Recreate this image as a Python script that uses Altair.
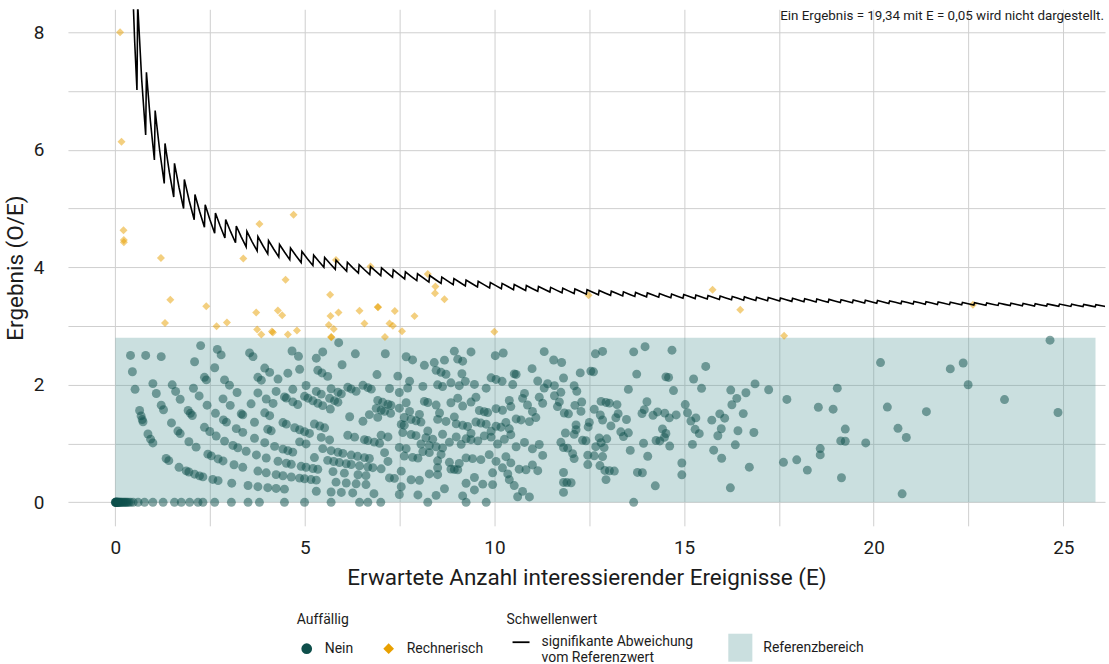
import altair as alt
import pandas as pd

# Observed events (O) per unit, keyed by O, listing the expected events (E) of each unit.
nein = {
    0: [0.0, 0.005, 0.01, 0.015, 0.02, 0.03, 0.04, 0.05, 0.06, 0.07, 0.08, 0.1, 0.12, 0.14, 0.16,
        0.19, 0.22, 0.25, 0.28, 0.31, 0.35, 0.4, 0.47, 0.6, 0.77, 0.99, 1.26, 1.56, 1.74, 1.96,
        2.18, 2.31, 2.62, 3.06, 3.5, 3.8, 4.46, 4.99, 5.69, 6.44, 6.66, 7.0, 8.24, 9.25, 9.78, 13.67],
    1: [0.40, 0.45, 0.52, 0.64, 0.68, 0.71, 0.73, 0.86, 0.93, 0.99, 1.34, 1.41, 1.68, 1.87, 1.94,
        2.09, 2.22, 2.31, 2.57, 2.71, 3.07, 3.50, 3.76, 4.02, 4.24, 4.46, 5.30, 5.69, 5.96, 6.26,
        6.82, 7.49, 7.98, 8.46, 9.16, 10.61, 10.92],
    2: [0.80, 0.99, 1.08, 1.21, 1.27, 1.48, 1.65, 1.71, 1.94, 2.13, 2.44, 2.53, 2.71, 2.84, 3.13,
        3.36, 3.76, 3.98, 4.24, 4.42, 4.64, 4.86, 4.99, 5.16, 5.30, 5.82, 6.09, 6.35, 6.61, 7.54,
        8.68, 9.47, 10.74, 11.82],
    3: [1.21, 1.50, 1.59, 1.71, 1.92, 1.98, 2.03, 2.35, 2.49, 2.66, 2.88, 3.10, 3.23, 3.45, 3.72,
        3.98, 4.29, 4.51, 4.64, 4.90, 5.03, 5.21, 5.34, 5.74, 6.04, 6.40, 6.61, 7.23, 7.36, 7.80,
        8.02, 9.25, 9.69, 9.95, 10.52, 20.75],
    4: [2.06, 2.21, 2.42, 2.64, 2.85, 2.93, 3.19, 3.36, 3.67, 3.94, 4.20, 4.42, 4.55, 4.68, 5.25,
        5.60, 5.76, 5.91, 6.09, 6.22, 6.44, 6.66, 6.79, 7.01, 7.54, 8.28, 8.50, 9.47, 10.39, 11.82,
        11.91, 12.02, 14.24, 16.22],
    5: [2.09, 2.35, 2.40, 2.84, 3.03, 3.32, 3.36, 3.67, 4.02, 4.11, 4.86, 5.03, 5.47, 5.69, 5.87,
        6.00, 6.22, 6.39, 6.57, 6.70, 7.19, 8.50, 8.85, 8.94, 9.03, 9.95, 10.35, 12.94],
    6: [2.25, 2.62, 2.88, 3.01, 3.21, 3.58, 3.94, 4.07, 4.42, 4.51, 4.73, 4.86, 4.99, 5.12, 5.43,
        5.65, 7.10, 7.62, 7.84, 7.98, 8.50, 8.81, 9.07, 10.21, 10.65, 10.83, 11.14, 11.82],
    7: [2.69, 2.79, 3.76, 3.98, 4.16, 5.25, 5.39, 5.52, 6.13, 6.31, 6.57, 6.66, 6.83, 6.97, 7.49,
        7.67, 8.11, 8.28, 8.59, 9.25, 9.42, 9.64, 10.04, 10.43, 11.00, 12.91, 13.03, 13.16, 13.77,
        13.90, 14.94],
    8: [3.76, 3.85, 4.24, 4.46, 4.51, 4.68, 4.81, 7.01, 7.19, 8.06, 8.28, 8.46, 8.63, 9.86, 10.30,
        12.46, 12.78, 19.15],
    9: [3.54, 3.63, 3.94, 4.07, 4.29, 4.68, 4.99, 5.08, 5.21, 5.34, 5.47, 5.67, 6.18, 6.53, 7.58,
        7.80, 7.93, 8.19, 8.37, 8.81, 9.12, 11.27, 12.10],
    10: [4.55, 5.03, 5.30, 5.43, 5.65, 5.78, 5.87, 6.70, 6.92, 7.54, 7.62, 8.24, 8.63, 8.99, 9.25,
         9.38, 9.56, 10.08, 10.57, 11.00, 12.06, 12.46, 12.63, 12.85, 14.94, 16.72, 18.25],
    11: [4.86, 5.69, 5.87, 5.96, 6.88, 7.01, 7.10, 7.26, 7.62, 7.80, 7.93, 8.06, 9.38, 9.73, 9.91,
         10.26, 10.79, 11.18, 11.82, 11.93, 14.04],
    12: [4.66, 4.83, 5.34, 5.45, 5.60, 6.13, 6.22, 6.35, 6.92, 7.05, 7.19, 7.27, 7.49, 7.76, 8.02,
         8.50, 8.72, 8.99, 9.16, 9.29, 9.91, 10.43, 11.75, 12.67, 12.89, 13.58, 15.99, 17.62],
    13: [5.30, 6.53, 6.66, 6.75, 7.67, 8.55, 8.94, 9.51, 9.64, 9.78, 10.04, 10.17, 10.39, 12.32,
         12.41, 12.81, 17.97],
    14: [5.47, 5.98, 7.23, 7.49, 8.15, 8.24, 8.46, 10.30, 11.87, 12.10, 12.76, 12.96, 13.93, 14.62,
         15.78],
    15: [6.90, 7.71, 8.85, 9.16, 9.60, 9.73, 9.82, 10.57, 10.70, 10.92, 12.15, 13.40, 14.26, 14.36,
         15.22, 18.59],
    16: [5.89, 6.33, 7.45, 7.76, 8.11, 9.03, 9.38, 10.04, 10.21, 11.09, 12.15, 12.47, 13.33, 13.53,
         14.48, 16.35],
    17: [8.50, 8.63, 9.51, 10.43, 11.00, 12.50, 13.07, 14.52, 18.59],
    18: [7.12, 8.85, 9.07, 10.39, 10.87, 11.84, 11.95, 12.85, 14.43, 15.40, 15.89],
    19: [7.67, 7.84, 8.15, 8.46, 8.59, 8.72, 9.23, 9.47, 9.78, 10.74, 11.27, 11.66, 12.28, 12.79,
         13.20, 13.48, 15.29],
    20: [8.41, 9.14, 10.79, 11.18, 11.71, 12.12, 12.63, 13.26, 15.98, 16.42, 16.84, 19.13, 19.25,
         19.79],
    21: [8.68, 9.91, 10.04, 10.20, 10.48, 11.58, 12.30, 13.89, 14.18, 14.61, 15.18],
    22: [9.03, 9.16, 11.31, 11.75, 12.81, 12.94, 13.03, 13.23, 13.95, 14.30, 14.49, 14.79, 15.31,
         15.73],
    23: [8.94, 10.52, 10.57, 11.14, 11.40, 11.58, 12.17, 15.09, 16.07, 20.86],
    24: [9.38, 12.10, 14.02, 15.94, 19.25],
    25: [10.02, 10.99, 11.82, 15.03, 16.56],
    26: [10.23, 13.53, 20.64],
    27: [12.26, 16.26],
    28: [11.56, 11.77, 12.54, 12.61, 14.72],
    29: [11.31, 16.39],
    30: [13.75, 15.46, 18.54, 18.93],
    31: [14.52, 14.59, 16.23, 16.63, 17.71],
    32: [12.66, 15.25],
    33: [12.85, 17.23, 20.36, 21.39],
    34: [16.87],
    35: [13.67],
    36: [15.57],
    37: [13.97, 19.04],
    38: [14.68, 24.86],
    41: [23.45],
    45: [22.49],
    48: [20.18],
    50: [22.02],
    53: [22.36],
    68: [24.65],
}

rechnerisch = {
    1: [0.125, 0.163, 0.216, 0.224, 0.226],
    4: [1.31],
    5: [1.202, 1.45],
    8: [2.398, 2.67],
    9: [2.943],
    11: [3.74, 3.85],
    12: [3.715, 4.13, 4.155],
    13: [4.55],
    14: [3.375, 4.287, 4.40, 4.79],
    16: [5.69, 5.70],
    17: [4.49, 5.63, 5.76],
    18: [3.80, 5.675],
    19: [5.885],
    20: [5.665, 6.57, 7.11],
    21: [6.44],
    22: [7.23, 7.32, 7.56],
    23: [4.70, 6.92, 6.93],
    24: [5.82, 7.37],
    25: [7.89],
    27: [6.73],
    29: [9.995],
    30: [8.43, 8.68],
    31: [8.44],
    32: [8.24],
    44: [12.48],
    50: [17.637],
    54: [16.48],
    57: [15.75],
    76: [22.617],
}

# Threshold: critical count starts at 4 and rises by one at each of these E values.
schwelle_start_anzahl = 4
schwelle_sprung_E = [
    0.57, 0.80, 1.03, 1.29, 1.54, 1.80, 2.08, 2.35, 2.62, 2.89, 3.17, 3.45, 3.74, 4.02, 4.31,
    4.60, 4.90, 5.21, 5.50, 5.80, 6.10, 6.41, 6.71, 7.00, 7.31, 7.63, 7.95, 8.27, 8.59, 8.91,
    9.23, 9.55, 9.87, 10.18, 10.50, 10.82, 11.14, 11.46, 11.78, 12.10, 12.42, 12.74, 13.06,
    13.38, 13.70, 14.01, 14.33, 14.65, 14.97, 15.29, 15.61, 15.93, 16.25, 16.57, 16.89, 17.20,
    17.52, 17.84, 18.16, 18.48, 18.80, 19.12, 19.44, 19.76, 20.08, 20.40, 20.72, 21.04, 21.36,
    21.68, 22.00, 22.32, 22.64, 22.96, 23.28, 23.60, 23.92, 24.24, 24.56, 24.88, 25.20, 25.52,
    25.84,
]
schwelle_E_min, schwelle_E_max = 0.45, 26.3

# Reference range
referenz_E = [0.0, 25.85]
referenz_ergebnis = [0.0, 2.8]

hinweis = "Ein Ergebnis = 19,34 mit E = 0,05 wird nicht dargestellt."

FONT = "Roboto"
TEXT = "#1c1c1c"
GRID = "#cfcfcf"
GRUPPEN = ["Nein", "Rechnerisch"]
FARBEN = ["#0e4f4b", "#e8a000"]

# ---- tables -------------------------------------------------------------
def punkte_tabelle(daten, gruppe):
    rows = []
    for o, werte in daten.items():
        for e in werte:
            rows.append({"E": e, "O": o, "Ergebnis": (o / e) if e > 0 else 0.0,
                         "Auffällig": gruppe})
    return pd.DataFrame(rows)


punkte_nein = punkte_tabelle(nein, "Nein")
punkte_rechnerisch = punkte_tabelle(rechnerisch, "Rechnerisch")

linie_rows = []
anfaenge = [schwelle_E_min] + schwelle_sprung_E
enden = schwelle_sprung_E + [schwelle_E_max]
for i, (s, e) in enumerate(zip(anfaenge, enden)):
    k = schwelle_start_anzahl + i
    s0 = s + 0.02 if i > 0 else s
    for x in (s0, (s0 + e) / 2, e):
        linie_rows.append({"E": x, "Schwelle": k / x, "n": len(linie_rows),
                           "Art": "signifikante Abweichung vom Referenzwert"})
linie = pd.DataFrame(linie_rows)

band_df = pd.DataFrame({"x": [referenz_E[0]], "x2": [referenz_E[1]],
                        "y": [referenz_ergebnis[0]], "y2": [referenz_ergebnis[1]],
                        "Bereich": ["Referenzbereich"]})
text_df = pd.DataFrame({"t": [hinweis]})

# ---- scales & axes ------------------------------------------------------
x_scale = alt.Scale(domain=[-1.25, 26.1], nice=False, zero=False)
y_scale = alt.Scale(domain=[-0.4, 8.39], nice=False, zero=False)

x_axis = alt.Axis(
    title="Erwartete Anzahl interessierender Ereignisse (E)",
    values=[0, 2.5, 5, 7.5, 10, 12.5, 15, 17.5, 20, 22.5, 25],
    labelExpr="datum.value % 5 === 0 ? format(datum.value, 'd') : ''",
    grid=True, gridColor=GRID, gridWidth=1, domain=False, ticks=False, tickSize=0,
    labelFont=FONT, labelFontSize=19, labelColor=TEXT, labelPadding=13, labelOverlap=False,
    titleFont=FONT, titleFontSize=22.5, titleFontWeight="normal", titleColor=TEXT, titlePadding=9,
)
y_axis = alt.Axis(
    title="Ergebnis (O/E)",
    values=[0, 1, 2, 3, 4, 5, 6, 7, 8],
    labelExpr="datum.value % 2 === 0 ? format(datum.value, 'd') : ''",
    grid=True, gridColor=GRID, gridWidth=1, domain=False, ticks=False, tickSize=0,
    labelFont=FONT, labelFontSize=19, labelColor=TEXT, labelPadding=24, labelOverlap=False,
    titleFont=FONT, titleFontSize=22.5, titleFontWeight="normal", titleColor=TEXT, titlePadding=6,
)

legend_common = dict(
    orient="none", legendY=604, padding=0,
    titleFont=FONT, titleFontSize=14, titleFontWeight="normal", titleColor=TEXT,
    labelFont=FONT, labelFontSize=14, labelColor=TEXT,
)

leg_punkte = alt.Legend(
    title="Auffällig", legendX=229, direction="horizontal", gridAlign="none",
    symbolSize=115, symbolOpacity=1, symbolStrokeWidth=0, symbolOffset=3,
    labelOffset=11, columnPadding=25, titlePadding=15, **legend_common,
)
leg_linie = alt.Legend(
    title="Schwellenwert", legendX=439, symbolType="stroke", symbolSize=289,
    symbolStrokeWidth=1.8, symbolOffset=5, labelOffset=11, titlePadding=6,
    labelExpr="['signifikante Abweichung', 'vom Referenzwert']", **legend_common,
)
leg_band = alt.Legend(
    title=" ", legendX=659, symbolType="M-0.86,-1H0.86V1H-0.86Z", symbolSize=784,
    symbolOpacity=0.32, symbolStrokeWidth=0, labelOffset=9, titlePadding=7, **legend_common,
)

# ---- layers -------------------------------------------------------------
band = alt.Chart(band_df).mark_rect(opacity=0.32).encode(
    x=alt.X("x:Q", scale=x_scale, axis=x_axis),
    x2="x2:Q",
    y=alt.Y("y:Q", scale=y_scale, axis=y_axis),
    y2="y2:Q",
    fill=alt.Fill("Bereich:N", scale=alt.Scale(domain=["Referenzbereich"], range=["#5b9a9d"]),
                  legend=leg_band),
)


def punkt_layer(df, size):
    return alt.Chart(df).mark_point(filled=True, opacity=0.5, strokeWidth=0, size=size).encode(
        x=alt.X("E:Q", scale=x_scale, axis=x_axis),
        y=alt.Y("Ergebnis:Q", scale=y_scale, axis=y_axis),
        color=alt.Color("Auffällig:N", scale=alt.Scale(domain=GRUPPEN, range=FARBEN),
                        legend=leg_punkte),
        shape=alt.Shape("Auffällig:N", scale=alt.Scale(domain=GRUPPEN, range=["circle", "diamond"]),
                        legend=leg_punkte),
    )


linie_layer = alt.Chart(linie).mark_line(clip=True, strokeWidth=1.6).encode(
    x=alt.X("E:Q", scale=x_scale, axis=x_axis),
    y=alt.Y("Schwelle:Q", scale=y_scale, axis=y_axis),
    order="n:Q",
    stroke=alt.Stroke("Art:N", scale=alt.Scale(range=["#000000"]), legend=leg_linie),
)

text_layer = alt.Chart(text_df).mark_text(
    align="right", baseline="alphabetic", font=FONT, fontSize=13.4, color=TEXT,
).encode(x=alt.value(1037), y=alt.value(11), text="t:N")

chart = (
    alt.layer(band, punkt_layer(punkte_nein, 80), punkt_layer(punkte_rechnerisch, 64),
              linie_layer, text_layer)
    .properties(width=1038, height=517,
                padding={"left": 4, "top": 9, "right": 4, "bottom": 0})
    .configure_view(strokeWidth=0)
)

chart.save("out.html", embed_options={"renderer": "svg", "actions": False})
